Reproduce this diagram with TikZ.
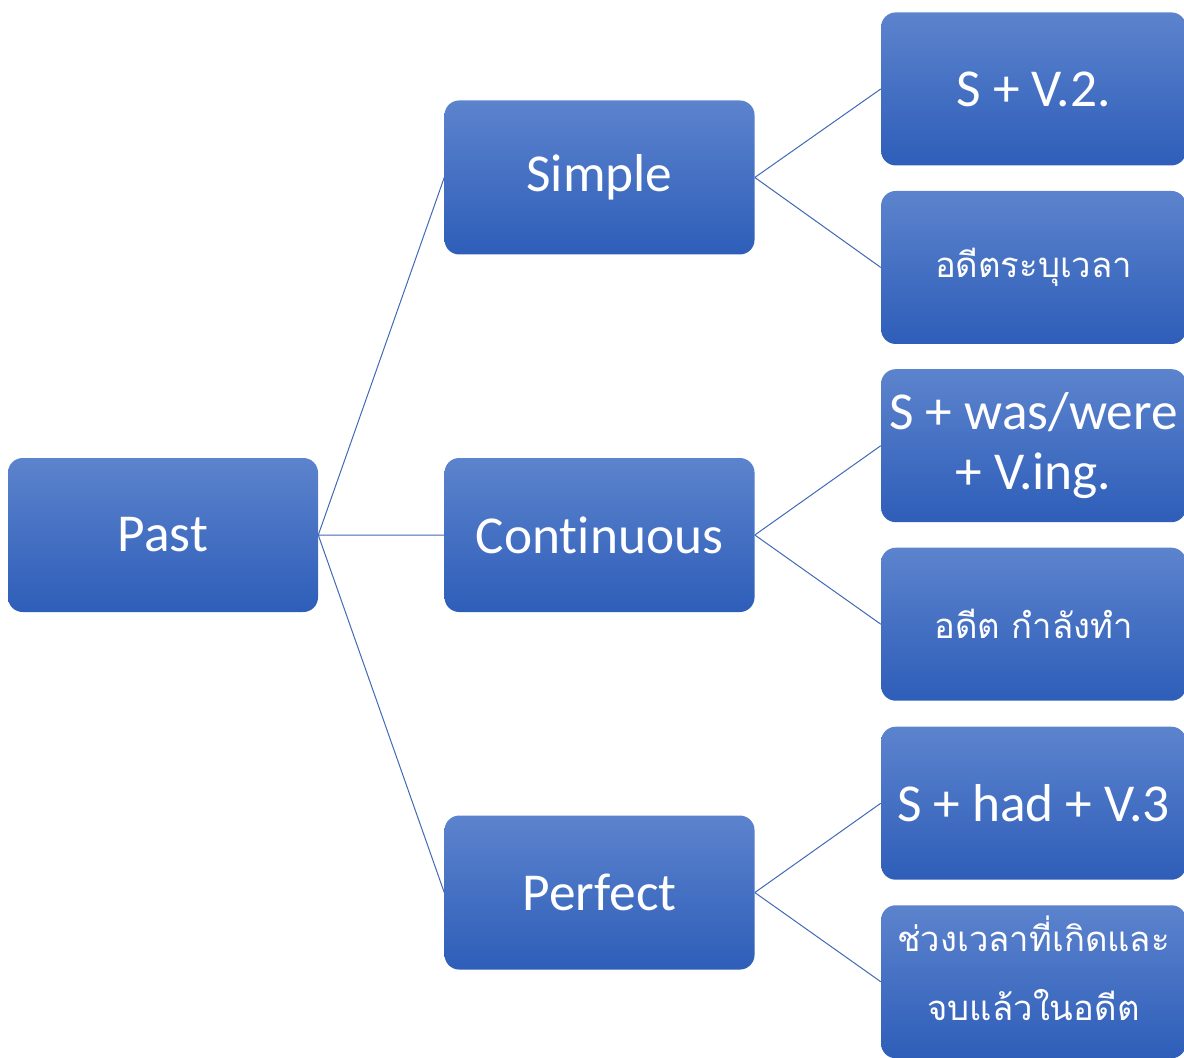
\documentclass[tikz,border=0pt]{standalone}
\usepackage{fontspec}
\setmainfont{Carlito}[Ligatures=NoCommon]
\newfontfamily\thaifont[Script=Thai]{Loma}
\usepackage{tikz}
\usetikzlibrary{positioning}

\definecolor{boxtop}{HTML}{5C83CD}
\definecolor{boxbottom}{HTML}{2E5EB9}
\definecolor{linkblue}{HTML}{4169B6}

\tikzset{
  tense/.style={rectangle, rounded corners=11pt, top color=boxtop, bottom color=boxbottom,
    draw=none, text=white, minimum width=232.5pt, minimum height=115.5pt,
    font=\fontsize{40}{48}\selectfont, inner sep=0pt},
  leaf/.style={tense, minimum width=228.75pt, minimum height=114.75pt},
  thai/.style={leaf, font=\thaifont\fontsize{26}{52}\selectfont, align=center},
  link/.style={draw=linkblue, line width=0.75pt}
}

\begin{document}
\begin{tikzpicture}[x=0.75pt, y=-0.75pt]
  \useasboundingbox (0,0) rectangle (1184,1057);
  \clip (0,0) rectangle (1184,1057);

  \node[tense] (Past) at (163,535) {Past};
  \node[tense] (Cont) [right=94.5pt of Past] {Continuous};
  \node[tense] (Simple) [above=152.25pt of Cont] {Simple};
  \node[tense] (Perf) [below=152.25pt of Cont] {Perfect};

  \node[leaf] (SimpleForm) [right=94.5pt of Simple, yshift=66.4pt] {S + V.2.};
  \node[thai] (SimpleUse) [below=18.75pt of SimpleForm] {อดีตระบุเวลา};
  \node[leaf, align=center, font=\fontsize{40}{45}\selectfont] (ContForm)
    [right=94.5pt of Cont, yshift=67pt] {S + was/were\\+ V.ing.};
  \node[thai] (ContUse) [below=18.75pt of ContForm] {อดีต กำลังทำ};
  \node[leaf] (PerfForm) [right=94.5pt of Perf, yshift=67pt] {S + had + V.3};
  \node[thai, text depth=20pt] (PerfUse) [below=18.75pt of PerfForm] {ช่วงเวลาที่เกิดและ\\จบแล้วในอดีต};

  \path[link]
    (Past.east) -- (Simple.west)
    (Past.east) -- (Cont.west)
    (Past.east) -- (Perf.west)
    (Simple.east) -- (SimpleForm.west)
    (Simple.east) -- (SimpleUse.west)
    (Cont.east) -- (ContForm.west)
    (Cont.east) -- (ContUse.west)
    (Perf.east) -- (PerfForm.west)
    (Perf.east) -- (PerfUse.west);
\end{tikzpicture}
\end{document}
